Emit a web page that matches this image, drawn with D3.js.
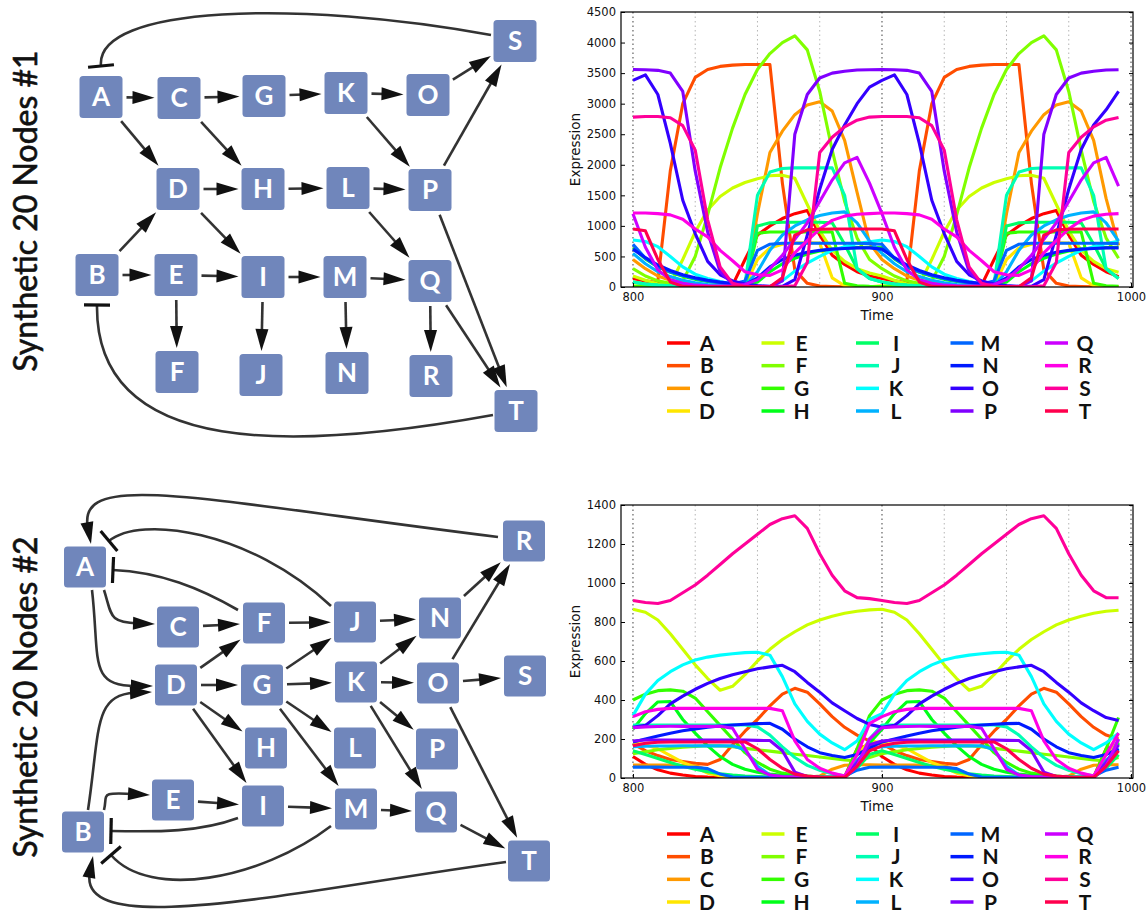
<!DOCTYPE html>
<html>
<head>
<meta charset="utf-8">
<script src="https://cdn.jsdelivr.net/npm/d3@7"></script>
<style>
  body { margin: 0; background: #fff; }
  svg { display: block; }
</style>
</head>
<body>
<svg id="fig" width="1147" height="913"></svg>
<script>
// ---- data ----
const genes = ["A","B","C","D","E","F","G","H","I","J","K","L","M","N","O","P","Q","R","S","T"];
const times = [800,805,810,815,820,825,830,835,840,845,850,855,860,865,870,875,880,885,890,895,
               900,905,910,915,920,925,930,935,940,945,950,955,960,965,970,975,980,985,990,995];
const gridTimes = [800,825,850,875,900,925,950,975,1000];
const xTicks = [800,900,1000];
const yTicks1 = [0,500,1000,1500,2000,2500,3000,3500,4000,4500];
const yTicks2 = [0,200,400,600,800,1000,1200,1400];

// network #1 expression
const s1A = [140,100,70,50,35,25,15,10,30,450,850,1000,1120,1200,1250,850,520,370,250,180,140,100,70,50,35,25,15,10,30,450,850,1000,1120,1200,1250,850,520,370,250,170];
const s1B = [5,5,100,1900,3000,3430,3560,3610,3630,3640,3640,3640,1700,280,60,15,8,5,4,4,5,5,100,1900,3000,3430,3560,3610,3630,3640,3640,3640,1700,280,60,15,8,5,4,4];
const s1C = [450,300,180,110,70,40,25,15,10,20,1200,2200,2550,2820,2980,3030,2880,2400,1550,720,450,300,180,110,70,40,25,15,10,20,1200,2200,2550,2820,2980,3030,2880,2400,1450,680];
const s1D = [20,12,8,5,3,2,2,2,2,10,450,640,700,720,725,720,150,20,5,3,20,12,8,5,3,2,2,2,2,10,450,640,700,720,725,720,150,20,5,3];
const s1E = [180,110,50,40,450,900,1260,1480,1620,1710,1770,1820,1830,1780,1350,920,600,420,300,230,180,110,50,40,450,900,1260,1480,1620,1710,1770,1820,1830,1780,1350,920,600,420,300,240];
const s1F = [300,180,100,60,100,500,1180,1950,2600,3150,3560,3820,4000,4110,3880,3200,2240,1400,800,450,300,180,100,60,100,500,1180,1950,2600,3150,3560,3820,4000,4110,3880,3200,2240,1400,800,470];
const s1G = [8,5,4,3,3,3,3,3,5,10,880,900,900,900,900,900,900,60,20,10,8,5,4,3,3,3,3,3,5,10,880,900,900,900,900,900,900,60,20,10];
const s1H = [640,460,330,240,175,125,90,65,45,30,80,250,380,470,540,590,620,635,645,650,640,460,330,240,175,125,90,65,45,30,80,250,380,470,540,590,620,635,645,650];
const s1I = [80,50,30,20,15,10,8,6,5,10,1000,1050,1060,1060,1060,1060,1050,700,300,140,80,50,30,20,15,10,8,6,5,10,1000,1050,1060,1060,1060,1060,1050,700,300,140];
const s1J = [80,50,30,20,12,8,5,3,2,50,1500,1880,1940,1950,1950,1950,1950,1500,300,140,80,50,30,20,12,8,5,3,2,50,1500,1880,1940,1950,1950,1950,1950,1500,300,140];
const s1K = [770,745,660,500,330,210,140,90,50,20,5,5,100,260,390,500,600,660,710,740,770,745,660,500,330,210,140,90,50,20,5,5,100,260,390,500,600,660,710,750];
const s1L = [550,380,250,170,110,70,40,25,15,20,250,600,850,1000,1100,1170,1210,1230,1050,750,550,380,250,170,110,70,40,25,15,20,250,600,850,1000,1100,1170,1210,1230,1050,750];
const s1M = [700,470,330,250,190,140,100,70,50,100,600,700,715,715,715,715,715,715,715,710,700,470,330,250,190,140,100,70,50,100,600,700,715,715,715,715,715,715,715,710];
const s1N = [620,480,360,270,200,150,110,80,55,40,150,330,450,520,570,600,620,630,640,640,620,480,360,270,200,150,110,80,55,40,150,330,450,520,570,600,620,630,640,640];
const s1O = [3380,3470,3150,2350,1420,875,420,200,100,50,25,10,10,120,850,1600,2250,2650,3000,3270,3380,3470,3150,2350,1420,875,420,200,100,50,25,10,10,120,850,1600,2250,2650,2900,3200];
const s1P = [3560,3555,3545,3500,3200,1900,900,250,50,10,5,5,100,2500,3150,3420,3500,3530,3550,3555,3560,3555,3545,3500,3200,1900,900,250,50,10,5,5,100,2500,3150,3420,3500,3530,3550,3555];
const s1Q = [1200,650,280,120,60,30,20,15,20,40,120,300,520,780,1050,1400,1750,2030,2120,1700,1200,650,280,120,60,30,20,15,20,40,120,300,520,780,1050,1400,1750,2030,2120,1650];
const s1R = [1210,1210,1200,1180,1110,950,820,600,430,250,200,190,280,560,760,950,1090,1160,1190,1200,1210,1210,1200,1180,1110,950,820,600,430,250,200,190,280,560,760,950,1090,1160,1190,1200];
const s1S = [2780,2790,2790,2770,2640,2240,1100,330,60,10,5,5,5,20,400,2200,2450,2620,2730,2780,2790,2790,2790,2770,2640,2240,1100,330,60,10,5,5,5,20,400,2200,2450,2620,2730,2775];
const s1T = [950,920,450,80,10,5,3,2,2,2,3,5,150,850,935,945,950,950,950,950,950,920,450,80,10,5,3,2,2,2,3,5,150,850,935,945,950,950,950,950];

// network #2 expression
const s2A = [110,70,42,25,15,8,5,4,3,3,2,2,2,2,2,2,2,5,150,170,110,70,42,25,15,8,5,4,3,3,2,2,2,2,2,2,2,5,150,170];
const s2B = [175,140,115,95,85,75,70,95,170,240,300,370,430,460,440,380,315,260,220,190,175,140,115,95,85,75,70,95,170,240,300,370,430,460,440,380,315,260,220,200];
const s2C = [67,67,66,66,65,64,40,12,5,3,3,3,3,3,3,10,45,65,68,68,67,67,66,66,65,64,40,12,5,3,3,3,3,3,3,10,45,65,68,68];
const s2D = [180,170,150,115,80,55,25,12,6,4,3,3,3,3,3,3,3,3,120,190,180,170,150,115,80,55,25,12,6,4,3,3,3,3,3,3,3,3,120,190];
const s2E = [865,850,810,740,660,580,510,450,470,530,600,660,710,750,785,810,830,845,855,862,865,850,810,740,660,580,510,450,470,530,600,660,710,750,785,810,830,845,855,860];
const s2F = [125,135,145,152,158,162,165,165,160,152,145,138,130,122,115,108,100,92,88,105,125,135,145,152,158,162,165,165,160,152,145,138,130,122,115,108,100,92,88,105];
const s2G = [400,430,448,452,445,410,340,270,200,130,80,45,25,15,10,5,3,3,150,320,400,430,448,452,445,410,340,270,200,130,80,45,25,15,10,5,3,3,150,310];
const s2H = [250,330,390,392,300,230,165,110,70,45,30,20,14,10,7,5,4,3,60,180,250,330,390,392,300,230,165,110,70,45,30,20,14,10,7,5,4,3,60,180];
const s2I = [140,120,100,80,60,45,32,22,15,10,7,5,4,3,3,3,3,3,50,120,140,120,100,80,60,45,32,22,15,10,7,5,4,3,3,3,3,3,50,120];
const s2J = [272,272,272,272,272,272,272,272,272,272,262,220,160,105,65,40,22,12,60,200,272,272,272,272,272,272,272,272,272,272,262,220,160,105,65,40,22,12,60,200];
const s2K = [320,430,500,545,580,605,620,630,637,643,645,630,520,380,290,225,180,145,190,300,330,430,500,545,580,605,620,630,637,643,645,630,520,380,290,225,180,145,180,230];
const s2L = [160,163,164,164,165,165,165,165,165,145,60,15,5,4,3,3,3,3,90,155,160,163,164,164,165,165,165,165,165,145,60,15,5,4,3,3,3,3,90,150];
const s2M = [56,56,56,55,55,55,48,20,5,3,3,3,3,3,3,3,3,10,40,55,56,56,56,55,55,55,48,20,5,3,3,3,3,3,3,3,3,10,40,55];
const s2N = [185,200,215,230,242,252,260,267,272,276,279,280,250,200,160,130,115,105,120,155,185,200,215,230,242,252,260,267,272,276,279,280,250,200,160,130,115,105,120,150];
const s2O = [260,270,320,380,420,455,485,510,530,545,560,570,578,545,490,440,385,345,305,275,260,270,320,380,420,455,485,510,530,545,560,570,578,545,490,440,385,345,310,295];
const s2P = [190,195,195,195,195,195,195,195,195,195,193,192,140,30,8,3,2,2,80,170,190,195,195,195,195,195,195,195,195,195,193,192,140,30,8,3,2,2,80,170];
const s2Q = [258,262,264,265,265,265,265,265,255,150,45,15,8,5,3,2,2,2,60,200,258,262,264,265,265,265,265,265,255,150,45,15,8,5,3,2,2,2,60,200];
const s2R = [315,340,352,357,357,357,357,357,357,357,357,357,345,190,95,50,25,10,120,280,315,340,352,357,357,357,357,357,357,357,357,357,345,190,95,50,25,10,120,230];
const s2S = [910,900,895,910,950,990,1040,1095,1150,1200,1250,1300,1330,1345,1280,1150,1040,960,925,920,910,900,895,910,950,990,1040,1095,1150,1200,1250,1300,1330,1345,1280,1150,1040,960,925,924];
const s2T = [165,178,183,185,185,185,185,185,185,185,150,95,50,20,10,5,3,3,60,140,165,178,183,185,185,185,185,185,185,185,150,95,50,20,10,5,3,3,60,140];

const series1 = [s1A,s1B,s1C,s1D,s1E,s1F,s1G,s1H,s1I,s1J,s1K,s1L,s1M,s1N,s1O,s1P,s1Q,s1R,s1S,s1T];
const series2 = [s2A,s2B,s2C,s2D,s2E,s2F,s2G,s2H,s2I,s2J,s2K,s2L,s2M,s2N,s2O,s2P,s2Q,s2R,s2S,s2T];

// network layouts: [name, x, y]
const net1Nodes = [["A",101,97],["C",179,98],["G",264,96],["K",346,93],["O",428,95],["S",515,41],
  ["D",178,189],["H",263,189],["L",348,188],["P",430,190],
  ["B",97,275],["E",176,275],["I",263,277],["M",345,277],["Q",430,281],
  ["F",177,372],["J",261,375],["N",347,373],["R",431,376],["T",516,411]];
const net1Edges = [["A","C"],["C","G"],["G","K"],["K","O"],["O","S"],["A","D"],["C","H"],["K","P"],["P","S"],
  ["D","H"],["H","L"],["L","P"],["D","I"],["L","Q"],["P","T"],["B","D"],["B","E"],["E","I"],["I","M"],
  ["M","Q"],["Q","T"],["E","F"],["I","J"],["M","N"],["Q","R"]];
// curved links: [type, p0, p1, p2, p3]
const net1Curves = [
  ["inhibit",[491,35],[300,0],[95,5],[101,66]],
  ["inhibit",[493,415],[300,450],[95,460],[97,305]]];

const net2Nodes = [["R",524,541],["A",85,567],["C",178,627],["F",264,623],["J",355,622],["N",440,618],
  ["D",176,685],["G",262,685],["K",356,682],["O",438,683],["S",525,676],
  ["H",266,748],["L",355,748],["P",437,749],
  ["E",173,800],["I",263,806],["M",356,809],["Q",436,812],["B",83,832],["T",529,861]];
const net2Edges = [["C","F"],["F","J"],["J","N"],["N","R"],["O","R"],["D","F"],["D","G"],["G","J"],["G","K"],
  ["K","N"],["K","O"],["O","S"],["D","H"],["D","I"],["G","L"],["G","M"],["K","P"],["K","Q"],["O","T"],
  ["E","I"],["I","M"],["M","Q"],["Q","T"]];
const net2Curves = [
  ["arrow",[498,537],[200,500],[80,486],[91,544]],
  ["inhibit",[331,606],[250,530],[140,515],[109,541]],
  ["inhibit",[238,610],[200,588],[160,572],[113,570]],
  ["arrow",[104,590],[112,615],[125,623],[155,624]],
  ["arrow",[92,590],[100,660],[105,686],[153,686]],
  ["arrow",[88,810],[100,730],[110,694],[152,692]],
  ["arrow",[104,810],[108,795],[115,793],[150,795]],
  ["inhibit",[238,818],[200,832],[160,832],[111,831]],
  ["inhibit",[331,826],[260,880],[150,900],[111,855]],
  ["arrow",[506,862],[300,890],[80,925],[93,856]]];

// ---- drawing ----
const svg = d3.select("#fig");
const hue = d3.scaleLinear().domain([0, 20]).range([0, 360]);
const colors = genes.map((g, i) => d3.hsl(hue(i), 1, 0.5).formatHex());

const edgeColor = "#333";
const headLen = 22, headHalf = 6.5;

function arrowHead(g, tip, ux, uy) {
  const bx = tip[0] - ux * headLen, by = tip[1] - uy * headLen;
  g.append("path")
    .attr("d", `M${tip[0]},${tip[1]}L${bx - uy * headHalf},${by + ux * headHalf}L${bx + uy * headHalf},${by - ux * headHalf}Z`)
    .attr("fill", "#111");
}

function inhibitBar(g, end, ux, uy) {
  g.append("line")
    .attr("x1", end[0] - uy * 13).attr("y1", end[1] + ux * 13)
    .attr("x2", end[0] + uy * 13).attr("y2", end[1] - ux * 13)
    .attr("stroke", "#111").attr("stroke-width", 3.2);
}

function drawNetwork(nodes, edges, curves, bw, bh, title, titleY) {
  const pos = new Map(nodes.map(n => [n[0], n]));
  const g = svg.append("g");

  // straight activation arrows, clipped to the boxes
  edges.forEach(([s, t]) => {
    const a = pos.get(s), b = pos.get(t);
    const len = Math.hypot(b[1] - a[1], b[2] - a[2]);
    const ux = (b[1] - a[1]) / len, uy = (b[2] - a[2]) / len;
    const edge = (u, v) => Math.min(bw / 2 / Math.max(Math.abs(u), 1e-6), bh / 2 / Math.max(Math.abs(v), 1e-6));
    const ds = edge(ux, uy) + 4, dt = edge(ux, uy) + 3;
    const p1 = [a[1] + ux * ds, a[2] + uy * ds];
    const tip = [b[1] - ux * dt, b[2] - uy * dt];
    g.append("line")
      .attr("x1", p1[0]).attr("y1", p1[1])
      .attr("x2", tip[0] - ux * (headLen - 4)).attr("y2", tip[1] - uy * (headLen - 4))
      .attr("stroke", edgeColor).attr("stroke-width", 2.6);
    arrowHead(g, tip, ux, uy);
  });

  // curved links
  curves.forEach(([type, p0, p1, p2, p3]) => {
    const len = Math.hypot(p3[0] - p2[0], p3[1] - p2[1]);
    const ux = (p3[0] - p2[0]) / len, uy = (p3[1] - p2[1]) / len;
    const back = type === "arrow" ? headLen - 5 : 0;
    const path = d3.path();
    path.moveTo(p0[0], p0[1]);
    path.bezierCurveTo(p1[0], p1[1], p2[0] - ux * back, p2[1] - uy * back, p3[0] - ux * back, p3[1] - uy * back);
    g.append("path").attr("d", path.toString())
      .attr("fill", "none").attr("stroke", edgeColor).attr("stroke-width", 2.6);
    if (type === "arrow") arrowHead(g, p3, ux, uy);
    else inhibitBar(g, p3, ux, uy);
  });

  // node boxes
  const node = g.selectAll("g.node").data(nodes).join("g")
    .attr("transform", d => `translate(${d[1]},${d[2]})`);
  node.append("rect")
    .attr("x", -bw / 2).attr("y", -bh / 2).attr("width", bw).attr("height", bh)
    .attr("rx", 3.5).attr("fill", "#7086bb");
  node.append("text")
    .text(d => d[0])
    .attr("text-anchor", "middle").attr("dy", "0.36em")
    .attr("font-family", "Lato, 'Open Sans', sans-serif").attr("font-weight", "bold")
    .attr("font-size", 26).attr("fill", "#fff");

  svg.append("text")
    .text(title)
    .attr("transform", `translate(37,${titleY}) rotate(-90)`)
    .attr("text-anchor", "middle")
    .attr("font-family", "Lato, 'Open Sans', sans-serif").attr("font-size", 32)
    .attr("fill", "#111").attr("stroke", "#111").attr("stroke-width", 0.6);
}

function drawChart(series, yMax, yTicks, top, bottom) {
  const left = 621, right = 1133;
  const x = d3.scaleLinear().domain([795.2, 1000.8]).range([left, right]);
  const y = d3.scaleLinear().domain([0, yMax]).range([bottom, top]);
  const g = svg.append("g");

  g.selectAll("line.grid").data(gridTimes).join("line")
    .attr("x1", d => x(d)).attr("x2", d => x(d))
    .attr("y1", top).attr("y2", bottom)
    .attr("stroke", d => d % 100 === 0 ? "#888" : "#b5b5b5")
    .attr("stroke-width", d => d % 100 === 0 ? 1.6 : 1)
    .attr("stroke-dasharray", "1.5,3");

  const clipId = "clip" + top;
  svg.append("clipPath").attr("id", clipId)
    .append("rect").attr("x", left).attr("y", top).attr("width", right - left).attr("height", bottom - top);

  const line = d3.line().x((d, i) => x(times[i])).y(d => y(d));
  g.append("g").attr("clip-path", `url(#${clipId})`)
    .selectAll("path").data(series).join("path")
    .attr("d", line)
    .attr("fill", "none")
    .attr("stroke", (d, i) => colors[i])
    .attr("stroke-width", 3.1)
    .attr("stroke-linejoin", "round");

  g.append("rect")
    .attr("x", left).attr("y", top).attr("width", right - left).attr("height", bottom - top)
    .attr("fill", "none").attr("stroke", "#000").attr("stroke-width", 1.2);

  const yAxis = g.append("g").attr("transform", `translate(${left},0)`)
    .call(d3.axisLeft(y).tickValues(yTicks).tickSize(-4).tickPadding(5).tickFormat(d3.format("d")));
  const yAxisR = g.append("g").attr("transform", `translate(${right},0)`)
    .call(d3.axisRight(y).tickValues(yTicks).tickSize(-4).tickFormat(""));
  const xAxis = g.append("g").attr("transform", `translate(0,${bottom})`)
    .call(d3.axisBottom(x).tickValues(xTicks).tickSize(-4).tickPadding(6).tickFormat(d3.format("d")));
  [yAxis, yAxisR, xAxis].forEach(a => {
    a.select(".domain").remove();
    a.attr("font-family", "'DejaVu Sans', sans-serif").attr("font-size", 11.5);
    a.selectAll("text").attr("fill", "#111");
  });

  g.append("text").text("Expression")
    .attr("transform", `translate(575,${(top + bottom) / 2}) rotate(-90)`)
    .attr("text-anchor", "middle").attr("dy", "0.35em")
    .attr("font-family", "'DejaVu Sans', sans-serif").attr("font-size", 13.5).attr("fill", "#111");
  g.append("text").text("Time")
    .attr("x", (left + right) / 2).attr("y", bottom + 28).attr("dy", "0.35em")
    .attr("text-anchor", "middle")
    .attr("font-family", "'DejaVu Sans', sans-serif").attr("font-size", 13.5).attr("fill", "#111");

  // legend: 5 columns x 4 rows
  const colX = d3.scaleLinear().domain([0, 4]).range([667, 1045]);
  const rowY = d3.scaleLinear().domain([0, 3]).range([bottom + 56, bottom + 124]);
  const item = g.selectAll("g.leg").data(genes).join("g")
    .attr("transform", (d, i) => `translate(${colX(Math.floor(i / 4))},${rowY(i % 4)})`);
  item.append("line").attr("x1", 0).attr("x2", 23).attr("y1", 0).attr("y2", 0)
    .attr("stroke", (d, i) => colors[i]).attr("stroke-width", 3.5);
  item.append("text").text(d => d)
    .attr("x", 40).attr("dy", "0.36em").attr("text-anchor", "middle")
    .attr("font-family", "Lato, 'Open Sans', sans-serif").attr("font-weight", "bold")
    .attr("font-size", 21).attr("fill", "#111");
}

drawNetwork(net1Nodes, net1Edges, net1Curves, 43, 42, "Synthetic 20 Nodes #1", 211);
drawNetwork(net2Nodes, net2Edges, net2Curves, 42, 41, "Synthetic 20 Nodes #2", 697);
drawChart(series1, 4500, yTicks1, 12, 287);
drawChart(series2, 1400, yTicks2, 505, 778);
</script>
</body>
</html>
